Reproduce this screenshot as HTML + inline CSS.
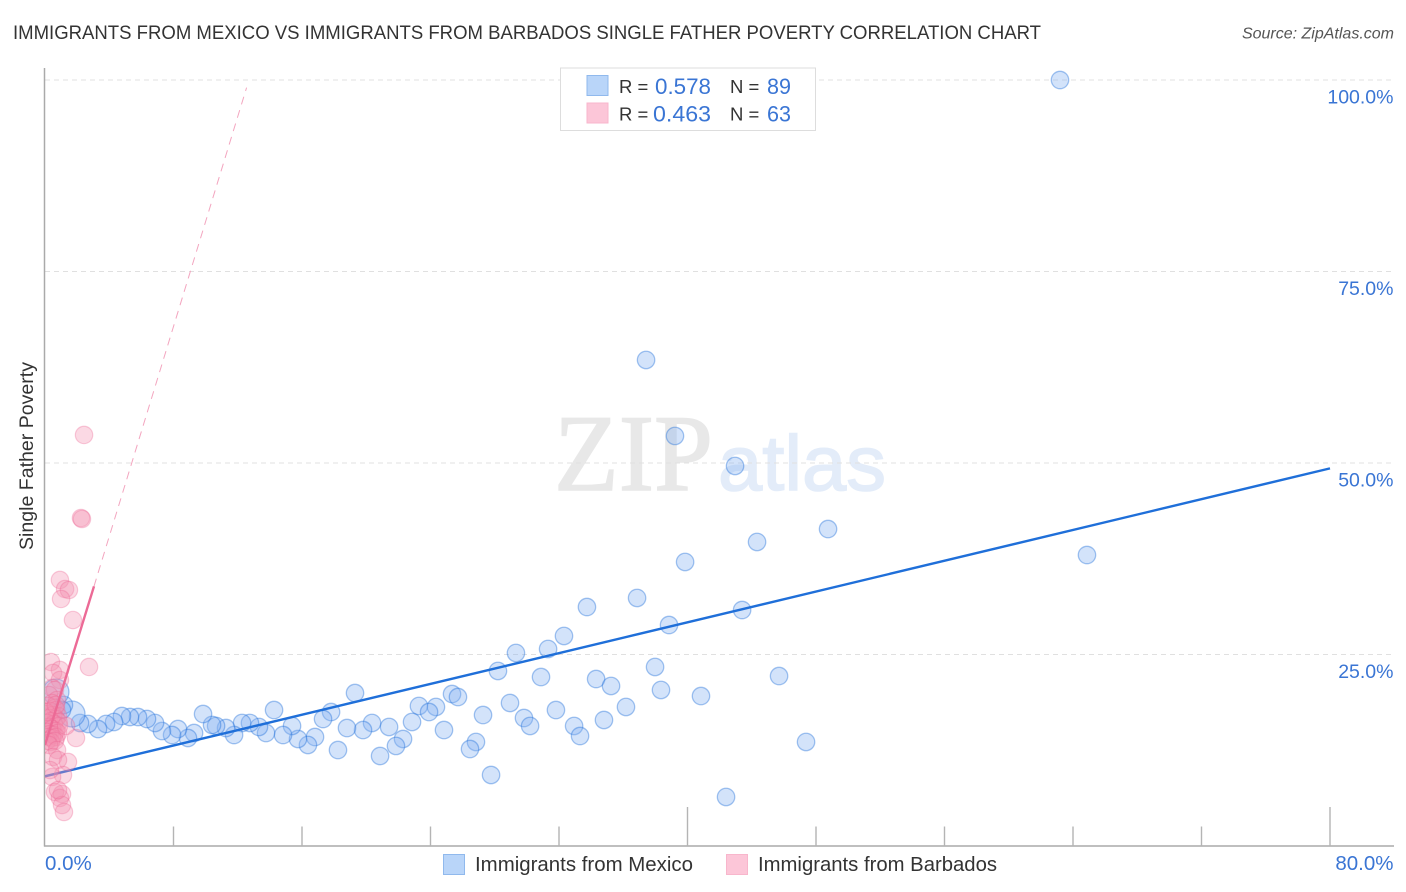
<!DOCTYPE html>
<html lang="en">
<head>
<meta charset="utf-8">
<title>Immigrants from Mexico vs Immigrants from Barbados Single Father Poverty Correlation Chart</title>
<style>
html,body{margin:0;padding:0;background:#fff;}
body{width:1406px;height:892px;overflow:hidden;}
svg{display:block;font-family:"Liberation Sans",sans-serif;}
</style>
</head>
<body>
<svg id="chart" xmlns="http://www.w3.org/2000/svg" width="1406" height="892" viewBox="0 0 1406 892">
  <defs>
    <clipPath id="plot-clip"><rect x="45" y="60" width="1350" height="786"></rect></clipPath>
  </defs>
  <rect x="0" y="0" width="1406" height="892" fill="#fff"></rect>

  <text x="13" y="39" font-size="19.5" fill="#333" textLength="1028" lengthAdjust="spacingAndGlyphs">IMMIGRANTS FROM MEXICO VS IMMIGRANTS FROM BARBADOS SINGLE FATHER POVERTY CORRELATION CHART</text>
  <text x="1394" y="38.5" font-size="16" font-style="italic" fill="#555" text-anchor="end">Source: ZipAtlas.com</text>

  <g>
    <text x="554" y="490" font-family="'Liberation Serif',serif" font-size="109" fill="#e8e8e8" stroke="#e8e8e8" stroke-width="1.5" textLength="159" lengthAdjust="spacingAndGlyphs">ZIP</text>
    <text x="718" y="490" font-size="78" fill="#e3ecf9" stroke="#e3ecf9" stroke-width="1.5" textLength="168" lengthAdjust="spacingAndGlyphs">atlas</text>
  </g>

  <g id="grid"></g>
  <g id="axes">
    <line x1="44.5" y1="68" x2="44.5" y2="846.5" stroke="#aaa" stroke-width="1.5"></line>
    <line x1="44" y1="846" x2="1394" y2="846" stroke="#aaa" stroke-width="1.5"></line>
  </g>
  <g id="x-ticks"></g>
  <g id="y-labels"></g>
  <g id="x-labels"></g>

  <text transform="translate(33,456) rotate(-90)" font-size="19" fill="#333" text-anchor="middle" textLength="188" lengthAdjust="spacingAndGlyphs">Single Father Poverty</text>

  <g clip-path="url(#plot-clip)">
    <g id="mexico-points"></g>
    <g id="mexico-trend"></g>
    <g id="barbados-points"></g>
    <g id="barbados-trend"></g>
  </g>

  <g>
    <rect x="560.5" y="68" width="255" height="62.5" fill="#fff" stroke="#ddd" stroke-width="1"></rect>
    <rect x="587" y="75.5" width="21" height="20" fill="#b9d5f9" stroke="#90b9ed" stroke-width="1"></rect>
    <rect x="587" y="103" width="21" height="20" fill="#fcc6d8" stroke="#f8b6cc" stroke-width="1"></rect>
    <text x="619" y="93" font-size="18.5" fill="#333">R =</text>
    <text x="655" y="94" font-size="22" fill="#3a75d4" textLength="56" lengthAdjust="spacingAndGlyphs">0.578</text>
    <text x="730" y="93" font-size="18.5" fill="#333">N =</text>
    <text x="767" y="94" font-size="22" fill="#3a75d4" textLength="24" lengthAdjust="spacingAndGlyphs">89</text>
    <text x="619" y="120.5" font-size="18.5" fill="#333">R =</text>
    <text x="653" y="121.5" font-size="22" fill="#3a75d4" textLength="58" lengthAdjust="spacingAndGlyphs">0.463</text>
    <text x="730" y="120.5" font-size="18.5" fill="#333">N =</text>
    <text x="767" y="121.5" font-size="22" fill="#3a75d4" textLength="24" lengthAdjust="spacingAndGlyphs">63</text>
  </g>

  <g>
    <rect x="443.5" y="854.5" width="21" height="20" fill="#b9d5f9" stroke="#90b9ed" stroke-width="1"></rect>
    <text x="475" y="871" font-size="20" fill="#333" textLength="218" lengthAdjust="spacingAndGlyphs">Immigrants from Mexico</text>
    <rect x="726.5" y="854.5" width="21" height="20" fill="#fcc6d8" stroke="#f8b6cc" stroke-width="1"></rect>
    <text x="758" y="871" font-size="20" fill="#333" textLength="239" lengthAdjust="spacingAndGlyphs">Immigrants from Barbados</text>
  </g>
</svg>

<script>
// ---- chart data (percent values) ----
const yTickValues = [25, 50, 75, 100];
const yTickLabels = ['25.0%', '50.0%', '75.0%', '100.0%'];
const xTickValues = [8, 16, 24, 32, 40, 48, 56, 64, 72, 80];
const xMajorTicks = [40, 80];
const xEndValues = [0, 80];
const xEndLabels = ['0.0%', '80.0%'];

const mexicoX = [63.19,37.42,39.22,42.96,64.87,48.75,44.33,39.85,36.86,33.74,43.40,38.85,32.31,31.32,29.32,37.98,28.20,45.70,30.88,34.31,35.24,38.35,40.84,19.30,25.34,25.71,23.28,24.34,23.91,28.95,27.27,31.81,36.17,29.82,30.20,32.94,33.31,34.80,26.83,26.46,27.77,42.40,47.38,24.84,22.85,21.42,20.36,19.80,18.80,17.81,17.31,22.29,21.85,20.86,18.24,16.81,16.37,15.75,15.38,14.82,14.26,13.76,13.32,12.76,12.27,11.77,11.27,10.65,10.40,9.84,9.28,8.90,8.28,7.91,7.28,6.85,6.35,5.79,5.29,4.79,4.30,3.80,3.30,2.68,2.18,1.68,1.18,1.06,0.68];
const mexicoY = [100.0,63.45,53.53,49.61,37.99,41.38,39.69,37.08,32.38,31.20,30.81,28.85,27.42,25.72,25.20,23.37,22.85,22.19,22.06,21.80,20.89,20.37,19.58,19.97,19.84,19.45,18.28,18.15,17.49,18.67,17.10,17.75,18.15,16.71,15.67,15.67,14.36,16.45,13.58,12.66,9.27,6.40,13.58,15.14,16.19,15.54,16.06,15.14,15.40,17.49,16.58,13.97,13.06,11.75,12.53,14.23,13.19,13.97,15.67,14.49,17.75,14.75,15.54,16.06,16.06,14.49,15.40,15.67,15.80,17.23,14.75,14.10,15.27,14.49,15.01,16.06,16.58,16.84,16.84,16.97,16.19,15.93,15.27,15.93,16.06,17.23,18.41,17.75,20.10];
const mexicoLargeIndexes = [85, 88];

const barbadosX = [2.43,2.24,2.30,0.93,1.25,1.49,1.00,1.74,2.74,0.37,0.93,0.50,0.93,0.44,0.62,0.25,0.75,0.44,0.19,0.62,0.70,0.31,0.12,0.50,0.81,0.25,0.68,0.37,0.85,0.12,0.56,0.87,0.25,0.44,0.68,0.12,0.31,0.56,0.81,0.19,0.44,0.70,1.93,0.12,0.37,0.62,0.25,1.31,0.75,0.50,1.43,0.81,1.12,0.44,0.31,0.62,1.06,0.93,1.06,1.18,0.81,0.06,0.68];
const barbadosY = [53.66,42.82,42.69,34.73,33.55,33.42,32.25,29.50,23.37,24.02,22.98,22.59,21.67,20.63,20.37,19.71,19.06,18.67,18.28,18.02,17.75,17.62,17.23,17.10,16.97,16.71,16.58,16.32,16.19,16.06,15.93,15.67,15.54,15.27,15.01,14.88,14.62,14.49,14.75,14.23,14.10,14.23,14.10,13.71,13.58,13.71,13.19,15.67,12.53,11.62,10.97,11.23,9.27,9.01,9.92,7.05,6.79,6.27,5.35,4.44,7.31,17.49,18.41];

const mexicoTrendX = [0, 80];
const mexicoTrendY = [9.1, 49.3];
const barbadosTrendX = [0, 3.05];
const barbadosTrendY = [13.2, 33.9];
const barbadosDashX = [3.05, 12.55];
const barbadosDashY = [33.9, 99.0];

// ---- axis functions ----
function xScale(v) { return 45 + v * (1330 - 45) / 80; }
function yScale(v) { return 846 - v * 7.66; }

const NS = 'http://www.w3.org/2000/svg';
function make(tag, attrs, parentId) {
  const el = document.createElementNS(NS, tag);
  for (const k in attrs) el.setAttribute(k, attrs[k]);
  document.getElementById(parentId).appendChild(el);
  return el;
}

// gridlines and y labels
yTickValues.forEach(function (v, i) {
  const grid = make('line', {x1: 45, x2: 1394, y1: yScale(v), y2: yScale(v), stroke: '#e0e0e0', 'stroke-width': 1, 'stroke-dasharray': '5 4'}, 'grid');
  
  
  const label = make('text', {x: 1393.5, y: yScale(v) + 23.5, 'font-size': 19.5, fill: '#3a75d4', 'text-anchor': 'end'}, 'y-labels');
  label.textContent = yTickLabels[i];
  
  
});

// x ticks
xTickValues.forEach(function (v) {
  const top = xMajorTicks.indexOf(v) >= 0 ? 807 : 826.5;
  const tick = make('line', {x1: xScale(v), x2: xScale(v), y1: top, y2: 846, stroke: '#b4b4b4', 'stroke-width': 1.4}, 'x-ticks');
  
  
});

// x end labels
xEndValues.forEach(function (v, i) {
  const isFirst = i === 0;
  const label = make('text', {x: isFirst ? xScale(v) : 1393.5, y: 870, 'font-size': 20.5, fill: '#3a75d4', 'text-anchor': isFirst ? 'start' : 'end'}, 'x-labels');
  label.textContent = xEndLabels[i];
  
  
});

// Mexico points
mexicoX.forEach(function (v, i) {
  const r = mexicoLargeIndexes.indexOf(i) >= 0 ? 13 : 8.7;
  const pt = make('circle', {cx: xScale(v), cy: yScale(mexicoY[i]), r: r, fill: 'rgba(134,177,240,0.36)', stroke: 'rgba(31,111,217,0.4)', 'stroke-width': 1.3}, 'mexico-points');
  
  
});

// Mexico trend line
const mexicoLine = make('line', {x1: xScale(mexicoTrendX[0]), y1: yScale(mexicoTrendY[0]), x2: xScale(mexicoTrendX[1]), y2: yScale(mexicoTrendY[1]), stroke: '#1f6fd9', 'stroke-width': 2.4}, 'mexico-trend');



// Barbados points
barbadosX.forEach(function (v, i) {
  const pt = make('circle', {cx: xScale(v), cy: yScale(barbadosY[i]), r: 8.7, fill: 'rgba(244,143,177,0.34)', stroke: 'rgba(236,100,146,0.32)', 'stroke-width': 1.2}, 'barbados-points');
  
  
});

// Barbados trend lines
const barbadosLine = make('line', {x1: xScale(barbadosTrendX[0]), y1: yScale(barbadosTrendY[0]), x2: xScale(barbadosTrendX[1]), y2: yScale(barbadosTrendY[1]), stroke: '#ec6a96', 'stroke-width': 2.4}, 'barbados-trend');



const barbadosDash = make('line', {x1: xScale(barbadosDashX[0]), y1: yScale(barbadosDashY[0]), x2: xScale(barbadosDashX[1]), y2: yScale(barbadosDashY[1]), stroke: '#f3a5bf', 'stroke-width': 1, 'stroke-dasharray': '8 6'}, 'barbados-trend');


</script>
</body>
</html>
